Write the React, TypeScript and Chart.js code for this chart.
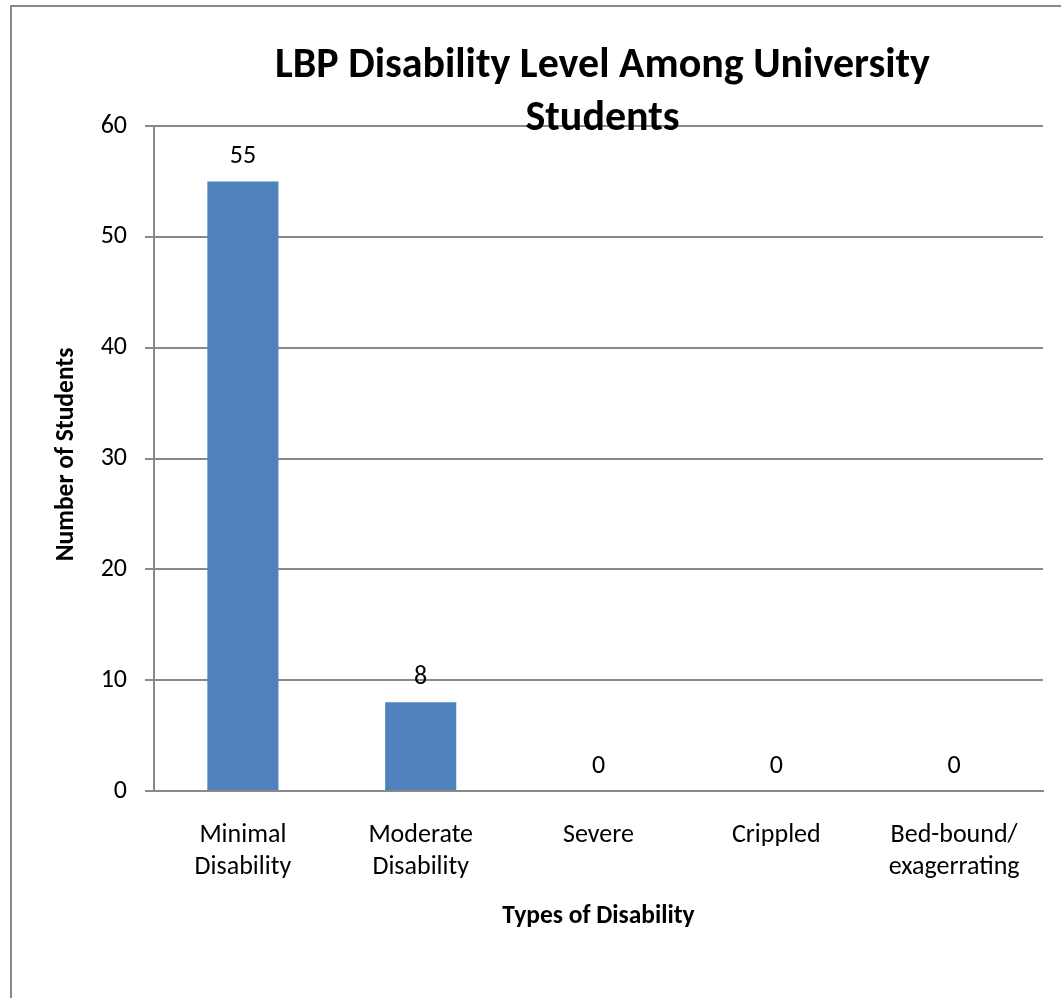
import React, { useEffect, useRef } from "react";
import { Chart, registerables } from "chart.js";

Chart.register(...registerables);

// Data
const categories: (string | string[])[] = [
  ["Minimal", "Disability"],
  ["Moderate", "Disability"],
  "Severe",
  "Crippled",
  ["Bed-bound/", "exagerrating"],
];
const studentCounts: number[] = [55, 8, 0, 0, 0];
const yTickValues: number[] = [0, 10, 20, 30, 40, 50, 60];
const titleLines: string[] = ["LBP Disability Level Among University", "Students"];
const xAxisTitle = "Types of Disability";
const yAxisTitle = "Number of Students";

// Styling
const FONT = "Calibri, Carlito, Lato, 'Open Sans', sans-serif";
const BAR_COLOR = "#4F81BD";
const LINE_COLOR = "#898989";
const TEXT_COLOR = "#000000";

const WIDTH = 1061;
const HEIGHT = 998;

// Draws the chart title, both axis titles and the value labels above the bars.
const annotationPlugin = {
  id: "annotations",
  afterDatasetsDraw(chart: any) {
    const ctx = chart.ctx as CanvasRenderingContext2D;
    const area = chart.chartArea;
    ctx.save();
    ctx.fillStyle = TEXT_COLOR;

    // value labels
    ctx.font = `26px ${FONT}`;
    ctx.textAlign = "center";
    ctx.textBaseline = "middle";
    const meta = chart.getDatasetMeta(0);
    const values = chart.data.datasets[0].data as number[];
    meta.data.forEach((bar: any, i: number) => {
      ctx.fillText(String(values[i]), bar.x, bar.y - 25);
    });

    const cx = (area.left + area.right) / 2;

    // x axis title
    ctx.font = `bold 25.5px ${FONT}`;
    ctx.textBaseline = "alphabetic";
    ctx.fillText(xAxisTitle, cx, 923);

    // y axis title (rotated)
    ctx.save();
    ctx.translate(73, (area.top + area.bottom) / 2 - 4);
    ctx.rotate(-Math.PI / 2);
    ctx.textAlign = "center";
    ctx.fillText(yAxisTitle, 0, 0);
    ctx.restore();

    // chart title, drawn over the plot area
    ctx.font = `bold 42px ${FONT}`;
    ctx.textAlign = "center";
    ctx.textBaseline = "alphabetic";
    ctx.fillText(titleLines[0], cx + 4, 77);
    ctx.fillText(titleLines[1], cx + 4, 130);

    ctx.restore();
  },
};

export default function App() {
  const canvasRef = useRef<HTMLCanvasElement | null>(null);

  useEffect(() => {
    if (!canvasRef.current) return;
    const chart = new Chart(canvasRef.current, {
      type: "bar",
      data: {
        labels: categories,
        datasets: [
          {
            data: studentCounts,
            backgroundColor: BAR_COLOR,
            borderWidth: 0,
            barPercentage: 0.4,
            categoryPercentage: 1.0,
          },
        ],
      },
      options: {
        responsive: false,
        animation: false,
        layout: { padding: { top: 126, right: 18, bottom: 0, left: 0 } },
        plugins: {
          legend: { display: false },
          tooltip: { enabled: false },
          title: { display: false },
        },
        scales: {
          x: {
            type: "category",
            offset: true,
            grid: { display: false, drawTicks: false },
            border: { display: true, color: LINE_COLOR, width: 2 },
            ticks: {
              color: TEXT_COLOR,
              font: { family: FONT, size: 26, lineHeight: 32 / 26 },
              padding: 28,
              maxRotation: 0,
              autoSkip: false,
            },
            afterFit: (scale: any) => {
              scale.height = 207;
            },
          },
          y: {
            min: 0,
            max: 60,
            afterBuildTicks: (scale: any) => {
              scale.ticks = yTickValues.map((v) => ({ value: v }));
            },
            ticks: {
              color: TEXT_COLOR,
              font: { family: FONT, size: 26 },
              padding: 18,
            },
            grid: { color: LINE_COLOR, lineWidth: 2, tickLength: 9 },
            border: { display: true, color: LINE_COLOR, width: 2 },
            afterFit: (scale: any) => {
              scale.width = 154;
            },
          },
        },
      },
      plugins: [annotationPlugin],
    });
    return () => chart.destroy();
  }, []);

  return (
    <div
      style={{
        position: "absolute",
        left: 0,
        top: 0,
        width: WIDTH,
        height: HEIGHT,
        overflow: "hidden",
        background: "#ffffff",
      }}
    >
      <div
        style={{
          position: "absolute",
          left: 10,
          top: 5,
          width: WIDTH + 40,
          height: HEIGHT + 40,
          borderLeft: `2px solid ${LINE_COLOR}`,
          borderTop: `2px solid ${LINE_COLOR}`,
        }}
      />
      <canvas
        ref={canvasRef}
        width={WIDTH}
        height={HEIGHT}
        style={{ position: "absolute", left: 0, top: 0 }}
      />
    </div>
  );
}
